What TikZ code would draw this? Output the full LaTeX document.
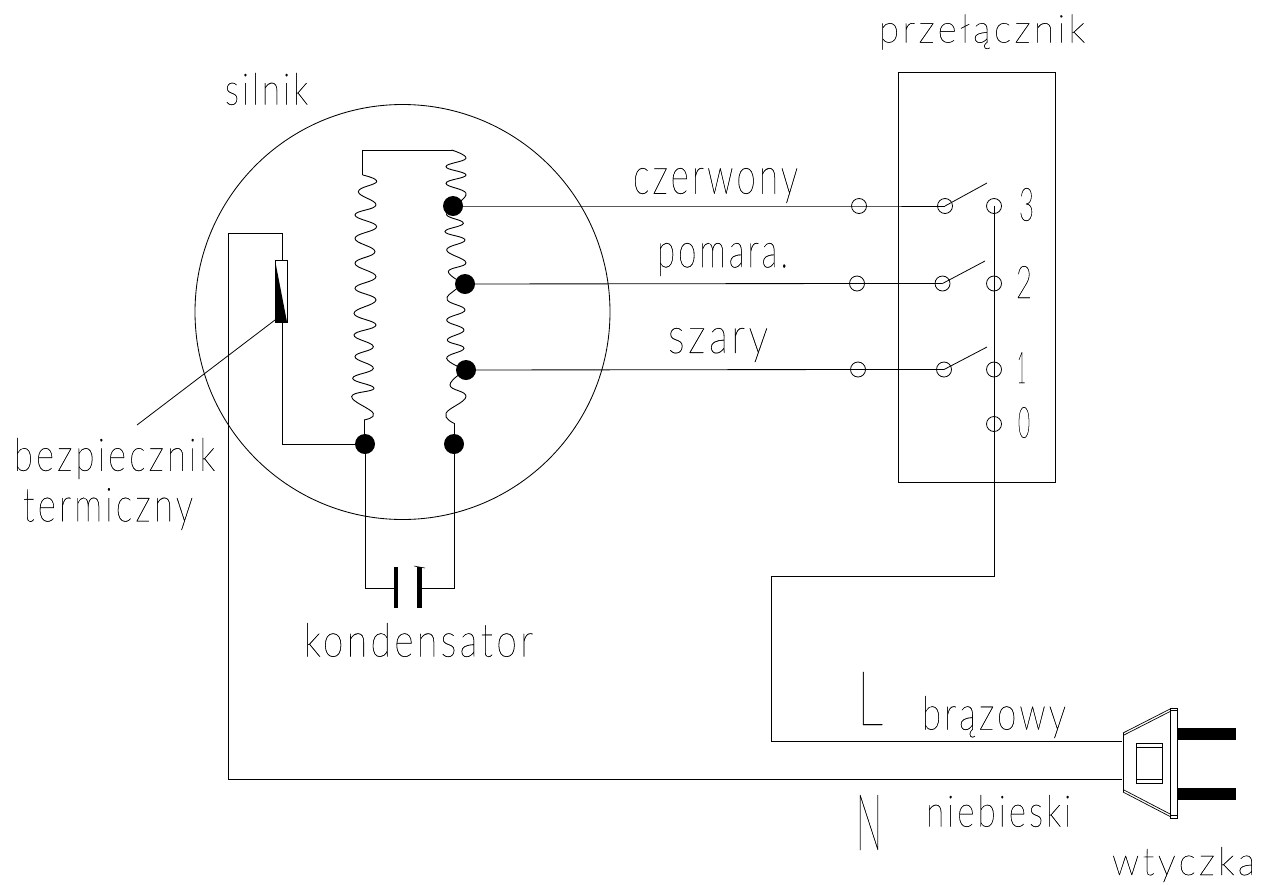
\documentclass[tikz,border=0pt]{standalone}
\usepackage{fontspec}
\usepackage{graphicx}
\newfontfamily\cadfont[LetterSpace=9,AutoFakeBold=0.3]{Lato Thin}
\newfontfamily\cadglyph[AutoFakeBold=0.3]{Lato Thin}
\newcommand{\labn}[6]{\node[textlab] (#1) at (#2,#3) {\resizebox*{#4pt}{#5pt}{\cadfont\bfseries #6}};}
\newcommand{\labg}[6]{\node[textlab] (#1) at (#2,#3) {\resizebox*{#4pt}{#5pt}{\cadglyph\bfseries #6}};}
\tikzset{
  wire/.style={line width=0.85pt,line join=miter},
  thin wire/.style={line width=0.8pt},
  terminal/.style={circle,draw,line width=0.8pt,minimum size=15pt,inner sep=0pt},
  joint/.style={circle,fill=black,minimum size=20pt,inner sep=0pt},
  textlab/.style={inner sep=0pt,outer sep=0pt},
  coil/.style={line width=0.9pt,smooth,tension=0.75},
}
\begin{document}
\begin{tikzpicture}[x=1pt,y=-1pt]
\useasboundingbox (0,0) rectangle (1268,884);

% motor and switch box
\node[circle,draw,line width=0.85pt,minimum size=415pt,inner sep=0pt] (motor) at (402.5,312) {};
\node[draw,line width=0.85pt,minimum width=157pt,minimum height=410pt,inner sep=0pt] (box) at (976.5,277) {};

% joints
\node[joint] (d1) at (453,206) {};
\node[joint] (d2) at (465,284) {};
\node[joint] (d3) at (466,370) {};
\node[joint] (d4) at (454,444) {};
\node[joint] (d5) at (365,444) {};

% terminals
\node[terminal] (a3) at (859,206) {};
\node[terminal] (b3) at (945,206) {};
\node[terminal] (c3) at (994,206) {};
\node[terminal] (a2) at (857,283.5) {};
\node[terminal] (b2) at (942.5,283.5) {};
\node[terminal] (c2) at (994,283.5) {};
\node[terminal] (a1) at (858,369.5) {};
\node[terminal] (b1) at (944,369.5) {};
\node[terminal] (c1) at (994,369.5) {};
\node[terminal] (c0) at (994,424) {};

% blades
\coordinate (t3) at (987,183);
\coordinate (t2) at (985,261);
\coordinate (t1) at (987,347);
\draw[thin wire] (b3.center) -- (t3);
\draw[thin wire] (b2.center) -- (t2);
\draw[thin wire] (b1.center) -- (t1);

% wires
\draw[wire] (d1.center) -- (a3.center) -- (b3.center);
\draw[wire] (d2.center) -- (a2.center) -- (b2.center);
\draw[wire] (d3.center) -- (a1.center) -- (b1.center);

% coils, in the coordinates of a 3x crop
\begin{scope}[shift={(340,130)},x=0.3333pt,y=-0.3333pt]
\draw[wire] (72,940) -- (72,870);
\draw[coil] plot coordinates {(72,870) (100,850) (35,800) (102,775) (38,745) (100,715) (45,680) (100,650) (42,615) (108,585) (42,550) (108,510) (45,475) (108,440) (45,400) (105,365) (45,325) (110,290) (45,255) (108,225) (55,185) (110,155) (68,135)};
\draw[wire] (68,135) -- (68,60) -- (335,60);
\draw[coil] plot coordinates {(335,60) (378,85) (318,110) (378,135) (318,160) (378,190) (340,228)};
\draw[coil] plot coordinates {(340,228) (320,255) (370,280) (315,305) (375,330) (320,360) (378,398) (325,425) (375,462)};
\draw[coil] plot coordinates {(375,462) (345,480) (322,510) (375,540) (320,570) (372,600) (322,630) (372,655) (320,685) (378,720)};
\draw[coil] plot coordinates {(378,720) (330,765) (378,800) (318,850) (342,880)};
\draw[wire] (342,880) -- (342,940);
\end{scope}

% thermal fuse
\node[draw,line width=0.8pt,minimum width=12pt,minimum height=62pt,inner sep=0pt] (fuse) at (281,291) {};
\fill (275,260) -- (287,322) -- (275,322) -- cycle;
\coordinate (nw) at (228,233);
\coordinate (ne) at (282,233);
\coordinate (sw) at (228,779);
\coordinate (fb) at (282,444);
\draw[wire] (fuse.north -| ne) -- (ne) -- (nw) -- (sw) -- (1122,779);
\draw[wire] (fuse.south -| ne) -- (fb) -- (d5.center);
\coordinate (lead) at (137,425);
\draw[thin wire] (275,320) -- (lead);

% capacitor
\coordinate (cl) at (365,588);
\coordinate (cr) at (454,588);
\draw[wire] (d5.center) -- (cl) -- (396,588);
\draw[wire] (d4.center) -- (cr) -- (419,588);
\draw[line width=4.2pt] (396,567) -- (396,608);
\draw[line width=4.2pt] (419.5,567) -- (419.5,608);
\draw[line width=0.6pt] (414,566) -- (425,568);

% line to plug
\coordinate (w1) at (994,576);
\coordinate (w2) at (771,576);
\coordinate (w3) at (771,741);
\draw[wire] (c3.center) -- (w1) -- (w2) -- (w3) -- (1122,741);

% plug
\draw[line width=0.85pt] (1123,733) -- (1123,792);
\draw[line width=0.7pt] (1123,733) -- (1171,708.5);
\draw[line width=0.7pt] (1124,735) -- (1171,711);
\draw[line width=0.7pt] (1123,792) -- (1171,817);
\draw[line width=0.7pt] (1124,790) -- (1171,814.5);
\node[draw,line width=0.85pt,minimum width=6.5pt,minimum height=110pt,inner sep=0pt] (bar) at (1174,763) {};
\draw[line width=0.7pt] (1171,710.5) -- (1177,710.5);
\draw[line width=0.7pt] (1171,815.5) -- (1177,815.5);
\node[draw,line width=0.85pt,minimum width=26pt,minimum height=40pt,inner sep=0pt] (sw1) at (1149,763) {};
\draw[line width=0.7pt] (1136,747.5) -- (1162,747.5) (1136,779) -- (1162,779);
\fill (1177,728) rectangle (1236,739.5);
\fill (1177,788) rectangle (1236,799.5);

% labels
\labn{silnik}{266.5}{89}{83}{32}{silnik}{}
\labn{przel}{982}{32}{206}{35}{przełącznik}{}
\labn{czer}{715.5}{185.5}{165}{35}{czerwony}{}
\labn{pom}{722.5}{259.5}{131}{33}{pomara.}{}
\labn{sza}{718}{345}{100}{34}{szary}{}
\labg{n3}{1026.5}{204.5}{15}{33}{3}{}
\labg{n2}{1024}{282}{16}{32}{2}{}
\labg{n1}{1021.5}{367.5}{9}{31}{1}{}
\labg{n0}{1024}{422.5}{12}{31}{0}{}
\labn{bez}{114.5}{458.5}{201}{41}{bezpiecznik}{}
\labn{ter}{108}{509}{170}{42}{termiczny}{}
\labn{kon}{418.5}{640}{229}{34}{kondensator}{}
\labg{el}{870}{698.5}{26}{53}{L}{}
\labn{bra}{994}{717}{144}{42}{brązowy}{}
\labg{en}{869}{822.5}{26}{55}{N}{}
\labn{nie}{998.5}{811}{145}{32}{niebieski}{}
\labn{wty}{1183.5}{864.5}{143}{35}{wtyczka}{}
\end{tikzpicture}
\end{document}
